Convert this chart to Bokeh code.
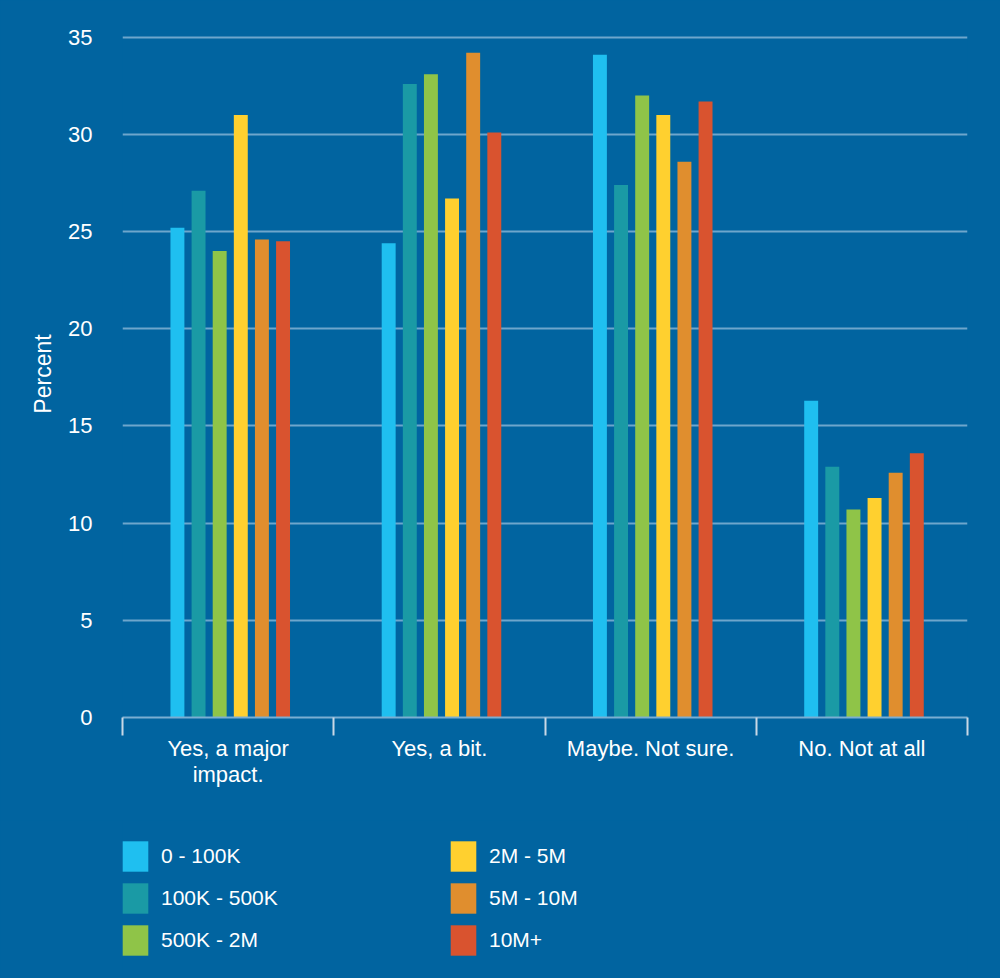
from bokeh.plotting import figure
from bokeh.layouts import column
from bokeh.models import ColumnDataSource, FixedTicker, Legend, LegendItem, Range1d
from bokeh.transform import dodge
from bokeh.embed import file_html
from bokeh.resources import INLINE

categories = ["Yes, a major\nimpact.", "Yes, a bit.", "Maybe. Not sure.", "No. Not at all"]
series_names = ["0 - 100K", "100K - 500K", "500K - 2M", "2M - 5M", "5M - 10M", "10M+"]
v_0_100k = [25.2, 24.4, 34.1, 16.3]
v_100k_500k = [27.1, 32.6, 27.4, 12.9]
v_500k_2m = [24.0, 33.1, 32.0, 10.7]
v_2m_5m = [31.0, 26.7, 31.0, 11.3]
v_5m_10m = [24.6, 34.2, 28.6, 12.6]
v_10m = [24.5, 30.1, 31.7, 13.6]
series_values = [v_0_100k, v_100k_500k, v_500k_2m, v_2m_5m, v_5m_10m, v_10m]
colors = ["#1fbff0", "#1a9aa5", "#8fc448", "#ffd02f", "#e08e2e", "#d9532f"]
y_ticks = [0, 5, 10, 15, 20, 25, 30, 35]

BG = "#0164a0"
FONT = "Liberation Sans"

centers = [i + 0.5 for i in range(len(categories))]
data = {"x": centers}
for i, vals in enumerate(series_values):
    data["s%d" % i] = vals
src = ColumnDataSource(data)

p = figure(width=1000, height=820, output_backend="svg", toolbar_location=None,
           x_range=Range1d(0, len(categories)), y_range=Range1d(0, 35.35),
           min_border_left=122, min_border_right=33, min_border_top=30,
           min_border_bottom=103, background_fill_color=BG,
           border_fill_color=BG, outline_line_color=None)

for i in range(len(series_values)):
    p.vbar(x=dodge("x", (i - 2.5) * 0.1 + 0.01, range=p.x_range), top="s%d" % i,
           width=0.066, source=src, fill_color=colors[i], line_color=None)

# axes
xa = p.xaxis[0]
xa.ticker = FixedTicker(ticks=centers, minor_ticks=list(range(len(categories) + 1)))
xa.major_label_overrides = {c: lab for c, lab in zip(centers, categories)}
xa.major_tick_in = 0
xa.major_tick_out = 0
xa.minor_tick_in = 0
xa.minor_tick_out = 18
xa.minor_tick_line_color = "#c9d8e6"
xa.minor_tick_line_width = 2
xa.axis_line_color = "#7aaed2"
xa.axis_line_width = 2
xa.major_label_standoff = 0
xa.major_label_text_color = "white"
xa.major_label_text_font = FONT
xa.major_label_text_font_size = "22px"
xa.major_label_text_line_height = 1.05

ya = p.yaxis[0]
ya.ticker = FixedTicker(ticks=y_ticks)
ya.axis_line_color = None
ya.major_tick_line_color = None
ya.minor_tick_line_color = None
ya.major_label_standoff = 24
ya.major_label_text_color = "white"
ya.major_label_text_font = FONT
ya.major_label_text_font_size = "22px"
ya.axis_label = "Percent"
ya.axis_label_text_color = "white"
ya.axis_label_text_font = FONT
ya.axis_label_text_font_style = "normal"
ya.axis_label_text_font_size = "23px"
ya.axis_label_standoff = 9

p.xgrid.grid_line_color = None
p.ygrid.grid_line_color = "#6ea6cc"
p.ygrid.grid_line_width = 2
p.ygrid.ticker = FixedTicker(ticks=y_ticks)

# legend panel (its renderers are hidden; only the legend is shown)
q = figure(width=1000, height=158, output_backend="svg", toolbar_location=None,
           x_axis_type=None, y_axis_type=None, min_border=0,
           background_fill_color=BG, border_fill_color=BG, outline_line_color=None)
q.grid.visible = False
leg_renderers = [q.vbar(x="x", top="s%d" % i, width=0.066, source=src, visible=False,
                        fill_color=c, line_color=None) for i, c in enumerate(colors)]
legend = Legend(items=[LegendItem(label=n, renderers=[r]) for n, r in zip(series_names, leg_renderers)],
                nrows=3, orientation="vertical", location=(-3, 19),
                glyph_width=32, glyph_height=38, label_standoff=10, spacing=4,
                label_width=282, label_text_color="white", label_text_font=FONT,
                label_text_font_size="21px", background_fill_alpha=0,
                inactive_fill_alpha=0, click_policy="none",
                border_line_color=None, padding=0, margin=0)
q.add_layout(legend, "center")

layout = column(p, q, spacing=0)
html = file_html(layout, INLINE)
html = html.replace("<head>", "<head><style>html, body { background: #0164a0; }</style>", 1)
open("out.html", "w").write(html)
